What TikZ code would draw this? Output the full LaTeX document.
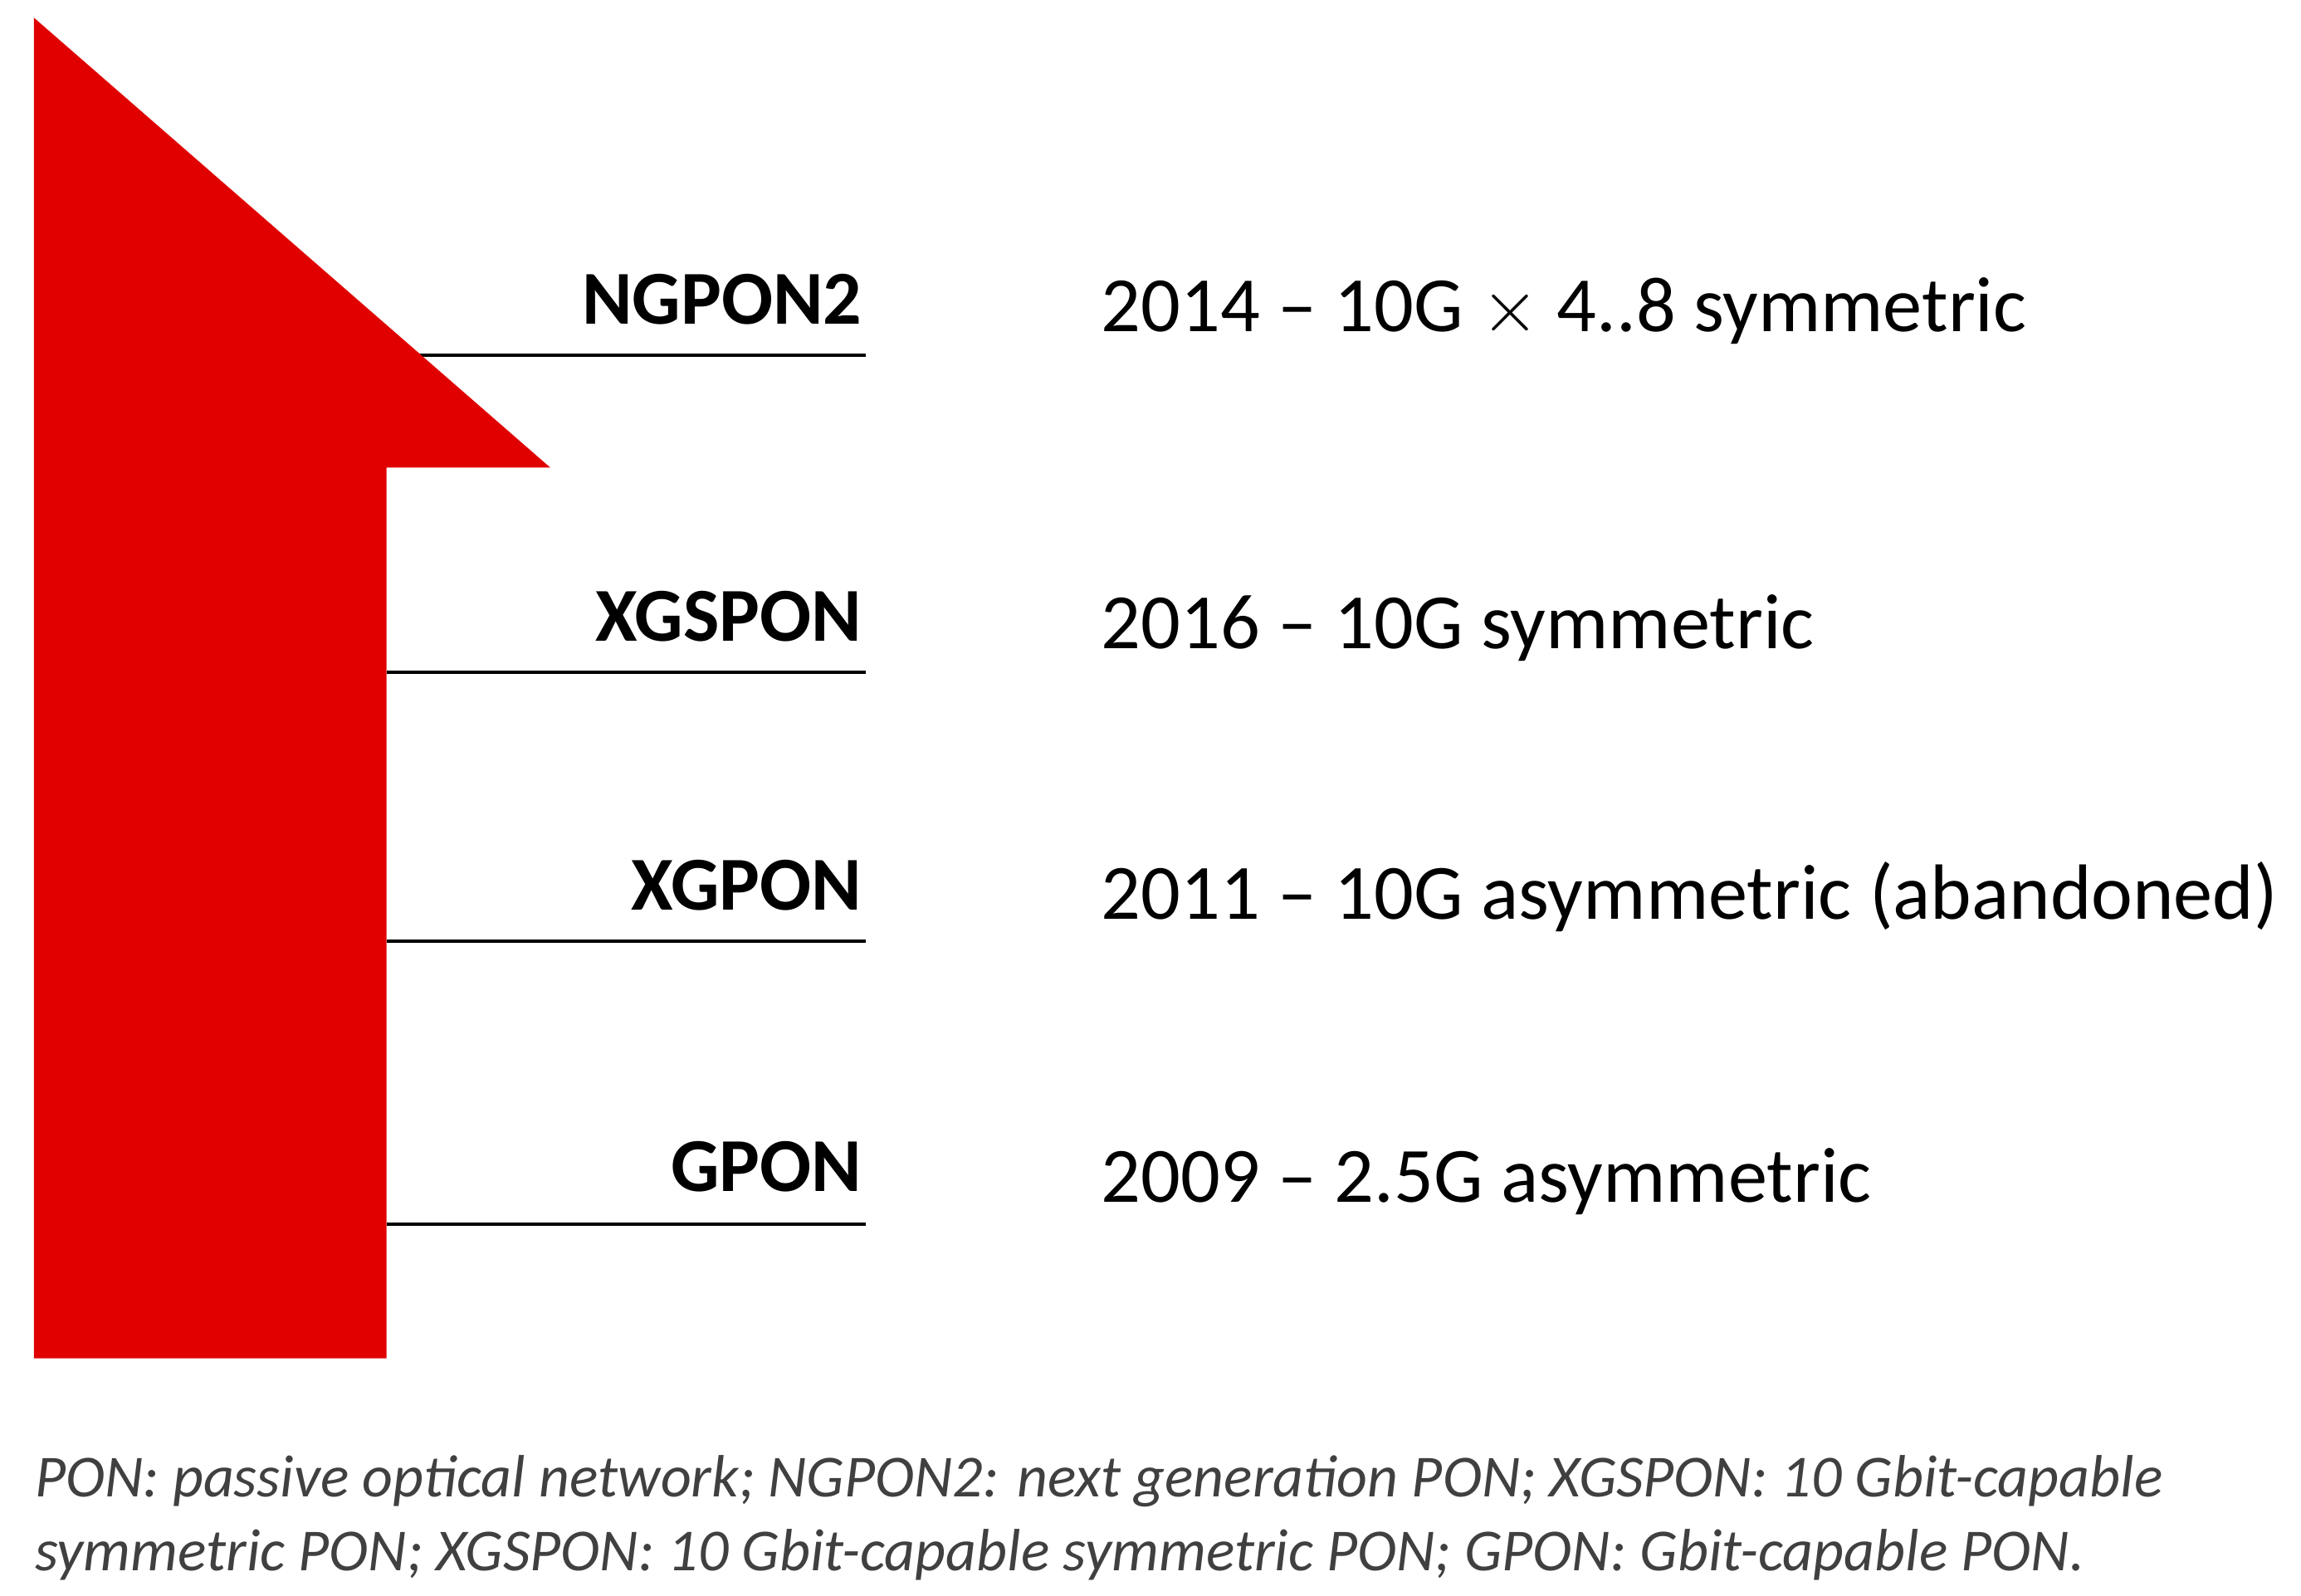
\documentclass[tikz,border=0pt]{standalone}
\usepackage{fontspec}
\setmainfont{Carlito}
\usetikzlibrary{positioning}
\definecolor{arrowred}{RGB}{224,0,0}
\definecolor{notegray}{RGB}{64,64,64}
\tikzstyle{gen} = [anchor=base east, inner sep=0pt,
  font=\bfseries\fontsize{14.7}{17}\selectfont]
\tikzstyle{info} = [anchor=base west, inner sep=0pt,
  font=\fontsize{15.1}{18}\selectfont]
\tikzstyle{note} = [anchor=base west, inner sep=0pt, text=notegray,
  font=\itshape\fontsize{11.5}{14}\selectfont]
\tikzstyle{rule} = [line width=0.6pt, draw=black]

\begin{document}
\begin{tikzpicture}[x=0.01cm, y=-0.01cm]
  \useasboundingbox (0,0) rectangle (1560,1082);
  % generations, oldest at the bottom
  \node (ngpon2) [gen] at (585,220) {NGPON2};
  \node (xgspon) [gen] at (585,435) {XGSPON};
  \node (xgpon) [gen] at (585,617) {XGPON};
  \node (gpon) [gen] at (585,808) {GPON};
  \node (ngpon2txt) [info] at (746,225) {2014 -- 10G $\times$ 4..8 symmetric};
  \node (xgspontxt) [info] at (746,440) {2016 -- 10G symmetric};
  \node (xgpontxt) [info] at (746,623) {2011 -- 10G asymmetric (abandoned)};
  \node (gpontxt) [info] at (746,815) {2009 -- 2.5G asymmetric};

  \coordinate (s1) at (262,241);
  \coordinate (s2) at (262,456);
  \coordinate (s3) at (262,638);
  \coordinate (s4) at (262,830);
  \draw [rule] (s1) -- ++(325,0);
  \draw [rule] (s2) -- ++(325,0);
  \draw [rule] (s3) -- ++(325,0);
  \draw [rule] (s4) -- ++(325,0);

  % big red arrow
  \fill [arrowred] (23,921) -- (23,12) -- (373,317) -- (262,317)
    -- (262,921) -- cycle;

  \node (note1) [note] at (23,1015)
    {PON: passive optical network; NGPON2: next generation PON; XGSPON: 10 Gbit-capable};
  \node (note2) [note] at (23,1065)
    {symmetric PON; XGSPON: 10 Gbit-capable symmetric PON; GPON: Gbit-capable PON.};
\end{tikzpicture}
\end{document}
